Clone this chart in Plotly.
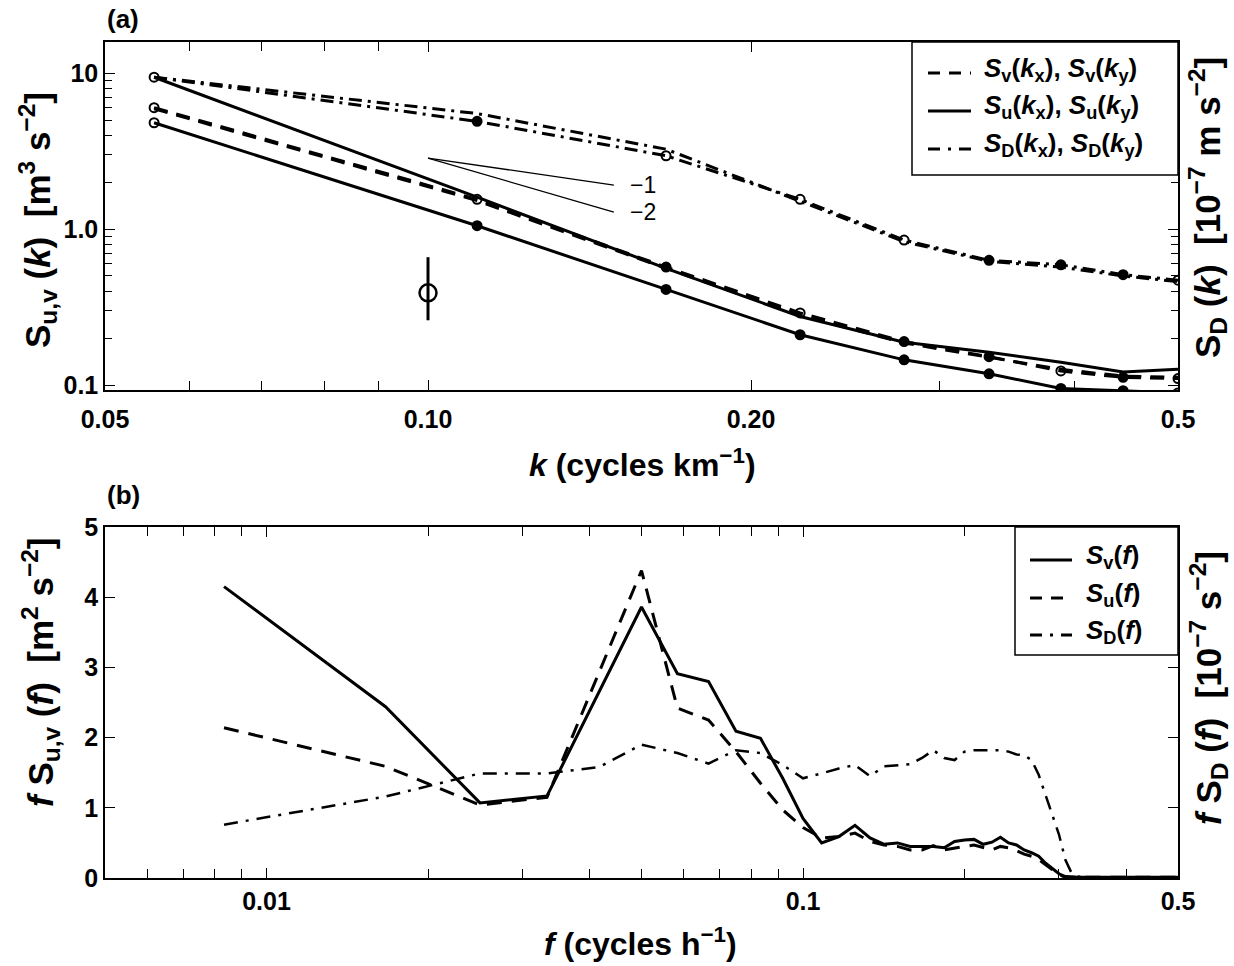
import math
import plotly.graph_objects as go

FONT = "Liberation Sans, Arial, Helvetica, sans-serif"

# ---------------- Panel (a): wavenumber spectra, k = n/18 cycles/km ----------------
k_index = [1, 2, 3, 4, 5, 6, 7, 8, 9]
k_vals = [n / 18 for n in k_index]
sv_kx = [6.0, 1.55, 0.57, 0.29, 0.19, 0.152, 0.123, 0.112, 0.110]
sv_ky = [5.9, 1.52, 0.56, 0.28, 0.186, 0.150, 0.126, 0.114, 0.112]
su_kx = [9.4, 1.60, 0.56, 0.275, 0.188, 0.162, 0.140, 0.121, 0.126]
su_ky = [4.8, 1.05, 0.41, 0.21, 0.145, 0.118, 0.095, 0.092, 0.089]
sd_kx = [9.4, 4.9, 2.95, 1.55, 0.85, 0.63, 0.59, 0.51, 0.47]
sd_ky = [9.4, 5.5, 3.25, 1.50, 0.83, 0.62, 0.57, 0.50, 0.46]
# filled (1) / open (0) markers drawn on three of the curves
sd_filled = [0, 1, 0, 0, 0, 1, 1, 1, 0]
sv_filled = [0, 0, 1, 0, 1, 1, 0, 1, 0]
su_filled = [0, 1, 1, 1, 1, 1, 1, 1, 0]
# error bar example
err_k = [0.1]
err_val = [0.39]
err_plus = [0.27]
err_minus = [0.13]
# reference slopes
slope_k = [0.1, 0.149]
slope_origin = 2.85
slope_powers = [-1, -2]
slope_labels = ["\u22121", "\u22122"]
k_tickvals = [0.05, 0.1, 0.2, 0.5]
k_ticktext = ["0.05", "0.10", "0.20", "0.5"]
k_minor = [0.06, 0.07, 0.08, 0.09, 0.3, 0.4]
sk_tickvals = [0.1, 1, 10]
sk_ticktext = ["0.1", "1.0", "10"]
sk_minor = [0.2, 0.3, 0.4, 0.5, 0.6, 0.7, 0.8, 0.9, 2, 3, 4, 5, 6, 7, 8, 9]

# ---------------- Panel (b): frequency spectra, f = n/120 cycles/h ----------------
fv_index = [1, 2, 3, 4] + list(range(6, 61))
sv_f = [4.15, 2.44, 1.07, 1.17, 3.86, 2.91, 2.80, 2.09, 1.99, 1.42,
        0.85, 0.50, 0.59, 0.75, 0.57, 0.48, 0.50, 0.45, 0.45, 0.45,
        0.43, 0.52, 0.54, 0.55, 0.48, 0.51, 0.58, 0.50, 0.47, 0.40,
        0.36, 0.31, 0.21, 0.14, 0.06, 0.02] + [0.01] * 23
su_f = [2.14, 1.59, 1.04, 1.15, 4.38, 2.42, 2.25, 1.80, 1.35, 0.97,
        0.72, 0.57, 0.59, 0.64, 0.52, 0.47, 0.45, 0.40, 0.40, 0.46,
        0.40, 0.43, 0.45, 0.47, 0.43, 0.40, 0.45, 0.43, 0.39, 0.34,
        0.31, 0.26, 0.19, 0.12, 0.05, 0.01] + [0.01] * 23
fd_index = list(range(1, 61))
sd_f = [0.76, 1.16, 1.49, 1.49, 1.58, 1.90, 1.78, 1.63, 1.82, 1.78,
        1.61, 1.42, 1.49, 1.56, 1.61, 1.45, 1.59, 1.61, 1.62, 1.71,
        1.82, 1.71, 1.68, 1.80, 1.82, 1.82, 1.82, 1.82, 1.80, 1.76,
        1.75, 1.68, 1.47, 1.18, 0.90, 0.62, 0.26, 0.07, 0.02] + [0.01] * 21
fv = [n / 120 for n in fv_index]
fd = [n / 120 for n in fd_index]
f_tickvals = [0.01, 0.1, 0.5]
f_ticktext = ["0.01", "0.1", "0.5"]
f_minor = [0.006, 0.007, 0.008, 0.009, 0.02, 0.03, 0.04, 0.05, 0.06, 0.07, 0.08, 0.09, 0.2, 0.3, 0.4]
sf_tickvals = [0, 1, 2, 3, 4, 5]

# legend texts
legend_a = [
    ("<i>S</i><sub>v</sub>(<i>k</i><sub>x</sub>), <i>S</i><sub>v</sub>(<i>k</i><sub>y</sub>)", "dash"),
    ("<i>S</i><sub>u</sub>(<i>k</i><sub>x</sub>), <i>S</i><sub>u</sub>(<i>k</i><sub>y</sub>)", "solid"),
    ("<i>S</i><sub>D</sub>(<i>k</i><sub>x</sub>), <i>S</i><sub>D</sub>(<i>k</i><sub>y</sub>)", "dashdot"),
]
legend_b = [
    ("<i>S</i><sub>v</sub>(<i>f</i>)", "solid"),
    ("<i>S</i><sub>u</sub>(<i>f</i>)", "dash"),
    ("<i>S</i><sub>D</sub>(<i>f</i>)", "dashdot"),
]

# ---------------- figure ----------------
W, H = 1234, 966
L, R, T, B = 105, 56, 42, 88
plot_w = W - L - R
plot_h = H - T - B
top_dom = [(H - B - 390) / plot_h, 1.0]
bot_dom = [0.0, (H - B - 527) / plot_h]

DASH_A = "14px,9px"
DASHDOT_A = "13px,6px,3px,6px"
DASH_B = "15px,10px"
DASHDOT_B = "14px,8px,3px,8px"
STYLE = {"solid": "solid", "dash": "12px,9px", "dashdot": "12px,8px,3px,8px"}
LW = 3

def px_x(px):
    return (px - L) / plot_w

def px_y(py):
    return (H - B - py) / plot_h

fig = go.Figure()

# top panel lines
for ys, dash in ((sv_kx, DASH_A), (sv_ky, DASH_A), (su_kx, "solid"), (su_ky, "solid"),
                 (sd_kx, DASHDOT_A), (sd_ky, DASHDOT_A)):
    fig.add_trace(go.Scatter(x=k_vals, y=ys, mode="lines", showlegend=False,
                             line=dict(color="black", width=LW, dash=dash)))

def mk(filled):
    return ["circle" if f else "circle-open" for f in filled]

for ys, fl in ((sd_kx, sd_filled), (sv_kx, sv_filled), (su_ky, su_filled)):
    fig.add_trace(go.Scatter(x=k_vals, y=ys, mode="markers", showlegend=False,
                             marker=dict(symbol=mk(fl), size=9, color="black",
                                         line=dict(color="black", width=2))))

# error bar
fig.add_trace(go.Scatter(x=err_k, y=err_val, mode="markers", showlegend=False,
                         marker=dict(symbol="circle-open", size=17, color="black", line=dict(width=2.5)),
                         error_y=dict(type="data", symmetric=False, array=err_plus, arrayminus=err_minus,
                                      width=0, thickness=3, color="black")))

# slope reference lines
for p, lab in zip(slope_powers, slope_labels):
    ys = [slope_origin * (kk / slope_k[0]) ** p for kk in slope_k]
    fig.add_trace(go.Scatter(x=slope_k, y=ys, mode="lines", showlegend=False,
                             line=dict(color="black", width=1.3)))
    fig.add_annotation(x=math.log10(slope_k[-1] * 1.03), y=math.log10(ys[-1]), xref="x", yref="y",
                       text=lab, showarrow=False, xanchor="left", yanchor="middle",
                       font=dict(family=FONT, size=23, color="black"))

# bottom panel lines
fig.add_trace(go.Scatter(x=fv, y=sv_f, mode="lines", xaxis="x2", yaxis="y2", showlegend=False,
                         line=dict(color="black", width=LW)))
fig.add_trace(go.Scatter(x=fv, y=su_f, mode="lines", xaxis="x2", yaxis="y2", showlegend=False,
                         line=dict(color="black", width=LW, dash=DASH_B)))
fig.add_trace(go.Scatter(x=fd, y=sd_f, mode="lines", xaxis="x2", yaxis="y2", showlegend=False,
                         line=dict(color="black", width=2.5, dash=DASHDOT_B)))

tickfont = dict(family=FONT, size=25, color="black", weight="bold")
axis_common = dict(showline=True, linecolor="black", linewidth=1.5, mirror="ticks",
                   ticks="inside", ticklen=10, tickwidth=1.3, tickcolor="black",
                   showgrid=False, zeroline=False, tickfont=tickfont)

fig.update_layout(
    width=W, height=H, margin=dict(l=L, r=R, t=T, b=B),
    paper_bgcolor="white", plot_bgcolor="white", showlegend=False,
    font=dict(family=FONT, color="black"),
    xaxis=dict(type="log", range=[math.log10(0.05), math.log10(0.5)], domain=[0, 1], anchor="y",
               tickvals=k_tickvals, ticktext=k_ticktext, ticklabelstandoff=6,
               minor=dict(tickvals=k_minor, ticks="inside", ticklen=9, tickcolor="black", tickwidth=1.3),
               **axis_common),
    yaxis=dict(type="log", range=[-1.032, 1.199], domain=top_dom, anchor="x",
               tickvals=sk_tickvals, ticktext=sk_ticktext,
               minor=dict(tickvals=sk_minor, ticks="inside", ticklen=7, tickcolor="black", tickwidth=1.3),
               **axis_common),
    xaxis2=dict(type="log", range=[math.log10(0.005), math.log10(0.5)], domain=[0, 1], anchor="y2",
                tickvals=f_tickvals, ticktext=f_ticktext,
                minor=dict(tickvals=f_minor, ticks="inside", ticklen=9, tickcolor="black", tickwidth=1.3),
                **axis_common),
    yaxis2=dict(range=[0, 5], domain=bot_dom, anchor="x2", tickvals=sf_tickvals, **axis_common),
)

# custom legends (box, line samples, labels)
def add_legend(box, rows, sample_x, text_x, row_y, yoff):
    x0, y0, x1, y1 = box
    fig.add_shape(type="rect", xref="paper", yref="paper", x0=px_x(x0), x1=px_x(x1),
                  y0=px_y(y1), y1=px_y(y0), fillcolor="white", line=dict(color="black", width=1.5),
                  layer="above")
    for (txt, sty), yy in zip(rows, row_y):
        fig.add_shape(type="line", xref="paper", yref="paper", x0=px_x(sample_x[0]), x1=px_x(sample_x[1]),
                      y0=px_y(yy), y1=px_y(yy), line=dict(color="black", width=3, dash=STYLE[sty]),
                      layer="above")
        fig.add_annotation(x=px_x(text_x), y=px_y(yy - yoff), xref="paper", yref="paper", text=txt,
                           showarrow=False, xanchor="left", yanchor="middle",
                           font=dict(family=FONT, size=26, color="black", weight="bold"))

add_legend((912, 42, 1178, 175), legend_a, (928, 971), 982, (73, 111, 149), 4)
add_legend((1015, 527, 1178, 655), legend_b, (1030, 1072), 1084, (560, 598, 635), 4)

titlefont = dict(family=FONT, size=32, color="black", weight="bold")
ytitlefont = dict(family=FONT, size=35, color="black", weight="bold")
panelfont = dict(family=FONT, size=26, color="black", weight="bold")
SP = "\u00a0\u00a0"
texts = [
    ("(a)", px_x(105), px_y(19), 0, "left", panelfont),
    ("(b)", px_x(105), px_y(495), 0, "left", panelfont),
    ("<i>k</i> (cycles km<sup>\u22121</sup>)", px_x(642), px_y(463), 0, "center", titlefont),
    ("<i>f</i> (cycles h<sup>\u22121</sup>)", px_x(640), px_y(942), 0, "center", titlefont),
    ("S<sub>u,v</sub> (<i>k</i>)" + SP + "[m<sup>3</sup> s<sup>\u22122</sup>]", px_x(38), px_y(220), -90, "center", ytitlefont),
    ("S<sub>D</sub> (<i>k</i>)" + SP + "[10<sup>\u22127</sup> m s<sup>\u22122</sup>]", px_x(1208), px_y(208), -90, "center", ytitlefont),
    ("<i>f</i> S<sub>u,v</sub> (<i>f</i>)" + SP + "[m<sup>2</sup> s<sup>\u22122</sup>]", px_x(40), px_y(672), -90, "center", ytitlefont),
    ("<i>f</i> S<sub>D</sub> (<i>f</i>)" + SP + "[10<sup>\u22127</sup> s<sup>\u22122</sup>]", px_x(1208), px_y(688), -90, "center", ytitlefont),
]
for txt, x, y, ang, xa, fnt in texts:
    fig.add_annotation(x=x, y=y, xref="paper", yref="paper", text=txt, showarrow=False,
                       textangle=ang, xanchor=xa, yanchor="middle", font=fnt)

fig.write_html("out.html", config={"displayModeBar": False},
               post_script="document.body.style.margin='0';document.body.style.overflow='hidden';")
